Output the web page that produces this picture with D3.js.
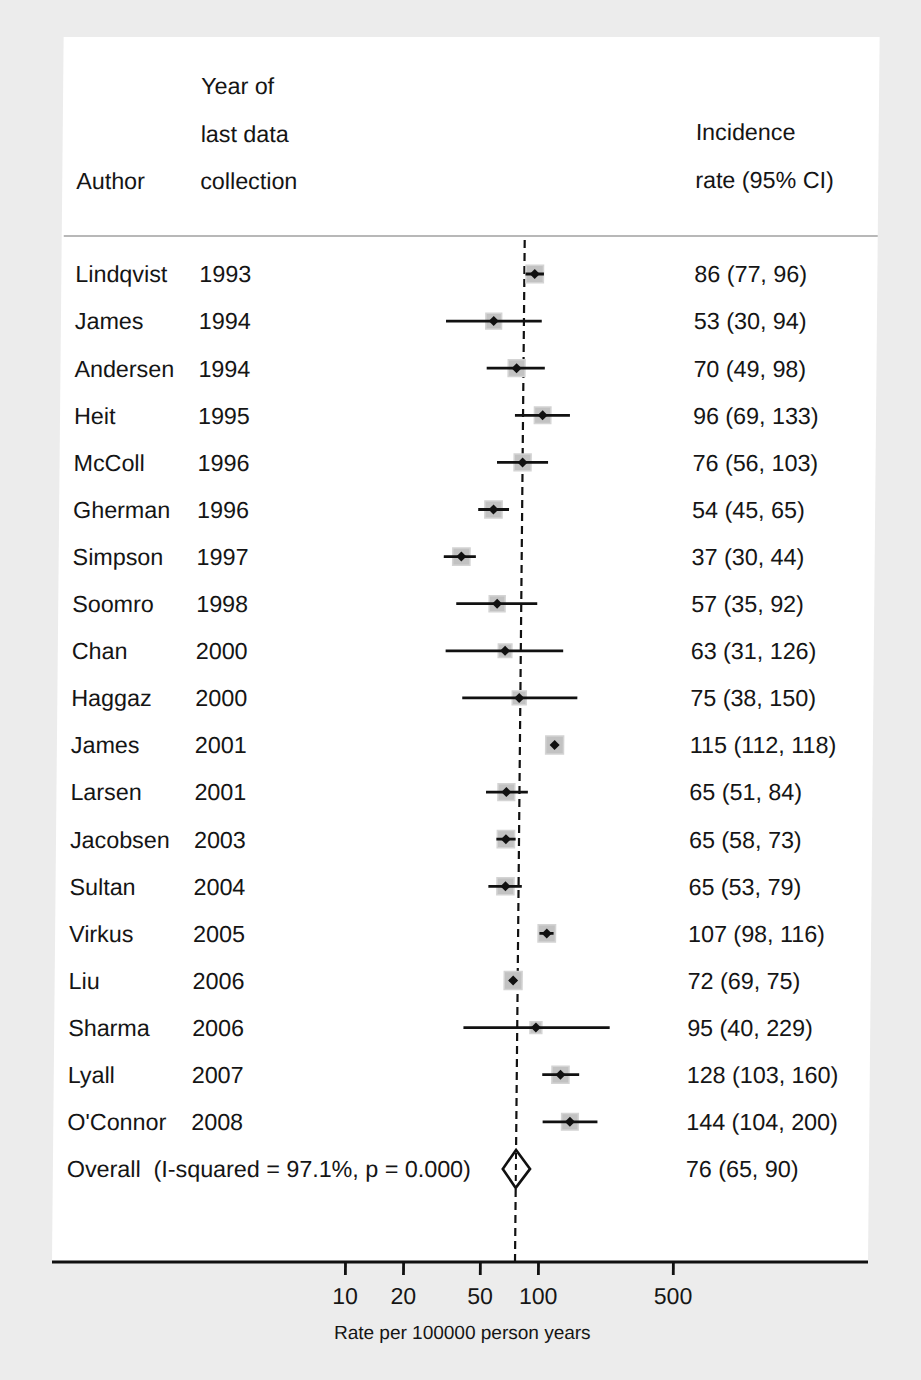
<!DOCTYPE html>
<html>
<head>
<meta charset="utf-8">
<script src="https://cdn.jsdelivr.net/npm/d3@7"></script>
<style>
  html, body { margin: 0; padding: 0; background: #ececec; }
  svg { display: block; }
  text { font-family: "Liberation Sans", Arial, Helvetica, sans-serif; fill: #151515; white-space: pre; }
</style>
</head>
<body>
<svg id="chart" width="921" height="1380"></svg>
<script>
// ---- data ----
const authors = ["Lindqvist","James","Andersen","Heit","McColl","Gherman","Simpson","Soomro","Chan","Haggaz",
                 "James","Larsen","Jacobsen","Sultan","Virkus","Liu","Sharma","Lyall","O'Connor"];
const years = [1993,1994,1994,1995,1996,1996,1997,1998,2000,2000,2001,2001,2003,2004,2005,2006,2006,2007,2008];
const rates = [86,53,70,96,76,54,37,57,63,75,115,65,65,65,107,72,95,128,144];
const lower = [77,30,49,69,56,45,30,35,31,38,112,51,58,53,98,69,40,103,104];
const upper = [96,94,98,133,103,65,44,92,126,150,118,84,73,79,116,75,229,160,200];
const weights = [5.6,4.6,5.2,5.0,5.3,5.5,5.5,4.7,3.4,3.6,5.9,5.2,5.5,5.4,5.6,5.9,2.6,5.4,5.1];
const overall = { label: "Overall  (I-squared = 97.1%, p = 0.000)", rate: 76, lower: 65, upper: 90 };
const tickValues = [10, 20, 50, 100, 500];
const headerYear = ["Year of", "last data", "collection"];
const headerRate = ["Incidence", "rate (95% CI)"];
const axisTitle = "Rate per 100000 person years";

// ---- layout ----
const svg = d3.select("#chart");
const baseY = 1262;          // axis line y, skew reference
const k = 0.0095;            // scan skew
const g = svg.append("g")
  .attr("transform", `translate(${k * baseY},0) skewX(${-Math.atan(k) * 180 / Math.PI})`);

// page
g.append("rect").attr("x", 52).attr("y", 37).attr("width", 816).attr("height", baseY - 37)
  .attr("fill", "#ffffff");

const x = d3.scaleLog().domain([10, 500]).range([345, 345 + 193 * Math.log10(50)]);
const rowY = d3.scaleLinear().domain([0, 19]).range([274, 274 + 19 * 47.1]);
const boxSide = d3.scaleSqrt().domain([0, 6]).range([0, 18]);

const colAuthor = 66, colYear = 190, colRate = 685;
const fs = 23.3;

// header
headerYear.forEach((t, i) => {
  g.append("text").attr("x", colYear).attr("y", 86 + i * 47.5).attr("dy", "0.36em")
    .attr("font-size", fs).text(t);
});
g.append("text").attr("x", colAuthor).attr("y", 181).attr("dy", "0.36em").attr("font-size", fs).text("Author");
headerRate.forEach((t, i) => {
  g.append("text").attr("x", colRate).attr("y", 132 + i * 48).attr("dy", "0.36em")
    .attr("font-size", fs).text(t);
});
g.append("line").attr("x1", 54).attr("x2", 868).attr("y1", 236).attr("y2", 236)
  .attr("stroke", "#a0a0a0").attr("stroke-width", 1.5);

// dashed overall line
g.append("line").attr("x1", x(overall.rate)).attr("x2", x(overall.rate))
  .attr("y1", 240).attr("y2", baseY)
  .attr("stroke", "#111").attr("stroke-width", 2.2).attr("stroke-dasharray", "8,5");

// rows
const rows = authors.map((a, i) => ({ a, yr: years[i], r: rates[i], lo: lower[i], hi: upper[i], w: weights[i], i }));
const rg = g.selectAll("g.row").data(rows).join("g").attr("class", "row")
  .attr("transform", d => `translate(0,${rowY(d.i)})`);

rg.append("text").attr("x", colAuthor).attr("dy", "0.36em").attr("font-size", fs).text(d => d.a);
rg.append("text").attr("x", colYear).attr("dy", "0.36em").attr("font-size", fs).text(d => d.yr);
rg.append("text").attr("x", colRate).attr("dy", "0.36em").attr("font-size", fs)
  .text(d => `${d.r} (${d.lo}, ${d.hi})`);
rg.append("rect")
  .attr("x", d => x(d.r) - boxSide(d.w) / 2).attr("y", d => -boxSide(d.w) / 2)
  .attr("width", d => boxSide(d.w)).attr("height", d => boxSide(d.w))
  .attr("fill", "#c2c2c2").attr("stroke", "#d4d4d4").attr("stroke-width", 1.5);
rg.append("line").attr("x1", d => x(d.lo)).attr("x2", d => x(d.hi))
  .attr("stroke", "#111").attr("stroke-width", 2.8);
rg.append("path")
  .attr("d", d => { const c = x(d.r); return `M${c - 5},0L${c},-5L${c + 5},0L${c},5Z`; })
  .attr("fill", "#111");

// overall
const oy = rowY(19);
g.append("text").attr("x", colAuthor).attr("y", oy).attr("dy", "0.36em").attr("font-size", fs).text(overall.label);
g.append("text").attr("x", colRate).attr("y", oy).attr("dy", "0.36em").attr("font-size", fs)
  .text(`${overall.rate} (${overall.lower}, ${overall.upper})`);
g.append("path")
  .attr("d", `M${x(overall.lower)},${oy}L${x(overall.rate)},${oy - 19}L${x(overall.upper)},${oy}L${x(overall.rate)},${oy + 19}Z`)
  .attr("fill", "#fff").attr("stroke", "#111").attr("stroke-width", 2.6);
g.append("line").attr("x1", x(overall.rate)).attr("x2", x(overall.rate))
  .attr("y1", oy - 16).attr("y2", oy + 16)
  .attr("stroke", "#111").attr("stroke-width", 2).attr("stroke-dasharray", "6,5");

// axis
g.append("line").attr("x1", 52).attr("x2", 868).attr("y1", baseY).attr("y2", baseY)
  .attr("stroke", "#111").attr("stroke-width", 2.8);
const ax = g.append("g").attr("transform", `translate(0,${baseY})`)
  .call(d3.axisBottom(x).tickValues(tickValues).tickFormat(d3.format("d")).tickSize(13).tickPadding(13));
ax.select(".domain").remove();
ax.selectAll(".tick line").attr("stroke", "#111").attr("stroke-width", 2.8);
ax.selectAll(".tick text").attr("font-size", 23).attr("fill", "#151515")
  .style("font-family", '"Liberation Sans", Arial, sans-serif');
g.append("text").attr("x", 463).attr("y", 1332).attr("dy", "0.36em").attr("text-anchor", "middle")
  .attr("font-size", 19).text(axisTitle);
</script>
</body>
</html>
